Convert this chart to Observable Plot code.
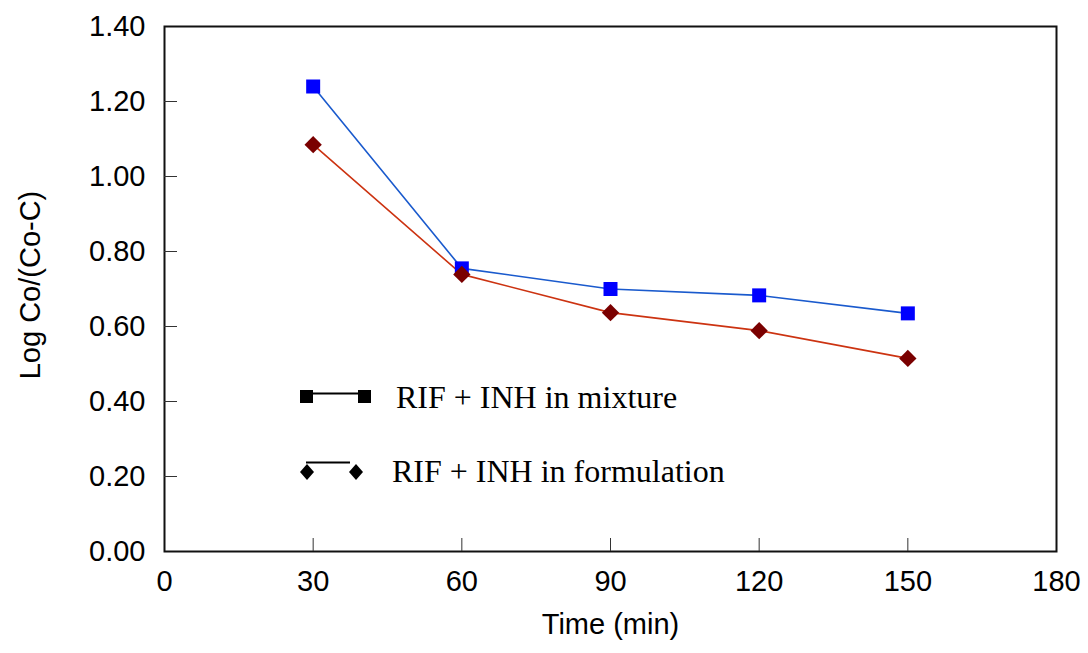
<!DOCTYPE html>
<html>
<head>
<meta charset="utf-8">
<script src="https://cdn.jsdelivr.net/npm/d3@7"></script>
<script src="https://cdn.jsdelivr.net/npm/@observablehq/plot@0.6"></script>
<style>
  html, body { margin: 0; padding: 0; background: #fff; }
  #wrap { position: relative; width: 1088px; height: 653px; }
  #legend { position: absolute; left: 0; top: 0; }
</style>
</head>
<body>
<div id="wrap"></div>
<script>
const times = [30, 60, 90, 120, 150];
const mixture = [1.24, 0.755, 0.70, 0.683, 0.635];
const formulation = [1.085, 0.739, 0.637, 0.589, 0.515];
const seriesNames = ["RIF + INH in mixture", "RIF + INH in formulation"];
const xTicks = [0, 30, 60, 90, 120, 150, 180];
const yTicks = [0, 0.2, 0.4, 0.6, 0.8, 1.0, 1.2, 1.4];

const mixData = times.map((t, i) => ({time: t, value: mixture[i]}));
const formData = times.map((t, i) => ({time: t, value: formulation[i]}));

const W = 1088, H = 653;
const mL = 164, mR = 32, mT = 26, mB = 102;
const plotH = H - mT - mB, plotW = W - mL - mR;
const tickLen = 13;

const font = "Liberation Sans, Arial, sans-serif";
const fs = 29;

const chart = Plot.plot({
  width: W, height: H,
  marginLeft: mL, marginRight: mR, marginTop: mT, marginBottom: mB,
  style: {fontFamily: font, fontSize: fs + "px", color: "#000", background: "#fff"},
  x: {domain: [0, 180], label: null},
  y: {domain: [0, 1.4], label: null},
  marks: [
    Plot.frame({stroke: "#111", strokeWidth: 2}),
    Plot.tickX(xTicks.slice(1, -1), {x: d => d, stroke: "#333", strokeWidth: 1, insetTop: plotH - tickLen}),
    Plot.tickY(yTicks.slice(1, -1), {y: d => d, stroke: "#333", strokeWidth: 1, insetRight: plotW - tickLen}),
    Plot.axisX({ticks: xTicks, tickSize: 0, tickPadding: 19, fontSize: fs, tickFormat: d => String(d)}),
    Plot.axisY({ticks: yTicks, tickSize: 0, tickPadding: 19, fontSize: fs, tickFormat: d => d.toFixed(2)}),
    Plot.line(mixData, {x: "time", y: "value", stroke: "#1a5acd", strokeWidth: 1.6}),
    Plot.line(formData, {x: "time", y: "value", stroke: "#cc3311", strokeWidth: 1.6}),
    Plot.dot(mixData, {x: "time", y: "value", symbol: "square", r: 7.9, fill: "#0000ff", stroke: "none"}),
    Plot.dot(formData, {x: "time", y: "value", symbol: "diamond2", r: 7.8, fill: "#7a0000", stroke: "none"}),
    Plot.text(["Time (min)"], {frameAnchor: "bottom", dy: 82, fontSize: fs, fill: "#000"}),
    Plot.text(["Log Co/(Co-C)"], {frameAnchor: "left", textAnchor: "middle", dx: -134, dy: -4, rotate: -90, fontSize: fs, fill: "#000"})
  ]
});
document.getElementById("wrap").appendChild(chart);

// legend overlay
const lg = d3.select("#wrap").append("svg").attr("id", "legend")
  .attr("width", W).attr("height", H);
const serif = "Liberation Serif, Times New Roman, serif";
// row 1: squares
lg.append("line").attr("x1", 308).attr("x2", 362).attr("y1", 393.5).attr("y2", 393.5).attr("stroke", "#000").attr("stroke-width", 2);
lg.append("rect").attr("x", 300).attr("y", 390).attr("width", 13).attr("height", 13).attr("fill", "#000");
lg.append("rect").attr("x", 358).attr("y", 390).attr("width", 13).attr("height", 13).attr("fill", "#000");
lg.append("text").attr("x", 396).attr("y", 408).attr("font-family", serif)
  .attr("font-size", 32).text(seriesNames[0]);
// row 2: diamonds
lg.append("line").attr("x1", 306).attr("x2", 350).attr("y1", 462.5).attr("y2", 462.5).attr("stroke", "#000").attr("stroke-width", 2);
const dia = (cx, cy) => `M${cx},${cy-8}L${cx+7},${cy}L${cx},${cy+8}L${cx-7},${cy}Z`;
lg.append("path").attr("d", dia(307, 472)).attr("fill", "#000");
lg.append("path").attr("d", dia(356, 472)).attr("fill", "#000");
lg.append("text").attr("x", 392).attr("y", 482).attr("font-family", serif)
  .attr("font-size", 32).text(seriesNames[1]);
</script>
</body>
</html>
